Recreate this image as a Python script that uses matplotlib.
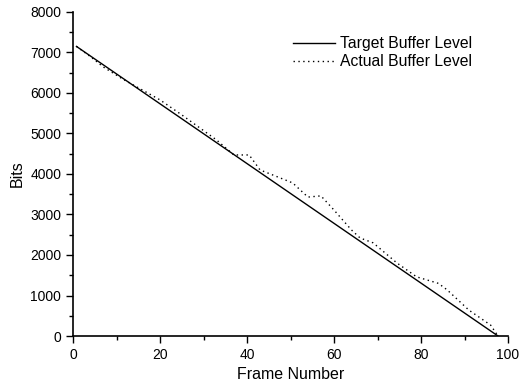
import matplotlib
matplotlib.use("Agg")
import matplotlib.pyplot as plt
from matplotlib.ticker import MultipleLocator

plt.rcParams['font.family'] = ['Liberation Sans', 'DejaVu Sans']

target_x = [0.8, 97.7]
target_y = [7150, 0]

actual_x = [0.8, 4, 7, 11.5, 15, 20, 25, 29, 33, 37, 40.5, 43, 47, 50.5, 54, 57, 60, 64, 66, 69,
            74.5, 79, 84, 86, 91, 96, 97.7]
actual_y = [7150, 6900, 6640, 6340, 6130, 5830, 5460, 5150, 4840, 4470, 4470, 4100, 3930, 3780,
            3430, 3460, 3110, 2620, 2420, 2300, 1800, 1460, 1300, 1140, 640, 270, 0]

fig = plt.figure(figsize=(5.28, 3.90), dpi=100)
ax = fig.add_axes([73/528, 54/390, 435/528, 324/390])

ax.plot(target_x, target_y, color='black', lw=1.0, label='Target Buffer Level')
ax.plot(actual_x, actual_y, color='black', lw=1.0, linestyle=(0, (1, 2.5)), label='Actual Buffer Level')

ax.set_xlim(0, 100)
ax.set_ylim(0, 8000)
ax.xaxis.set_major_locator(MultipleLocator(20))
ax.xaxis.set_minor_locator(MultipleLocator(10))
ax.yaxis.set_major_locator(MultipleLocator(1000))
ax.yaxis.set_minor_locator(MultipleLocator(500))
for s in ['top', 'right']:
    ax.spines[s].set_visible(False)
for s in ['left', 'bottom']:
    ax.spines[s].set_linewidth(1.2)
ax.tick_params(which='major', direction='out', length=5, width=1, labelsize=10)
ax.tick_params(which='minor', direction='out', length=3, width=1)
ax.set_xlabel('Frame Number', fontsize=11.5)
ax.set_ylabel('Bits', fontsize=11.5)

ax.legend(loc='upper left', bbox_to_anchor=(279/528, 1 - 22/390), bbox_transform=fig.transFigure,
          frameon=False, fontsize=11.3, handlelength=2.68, handletextpad=0.3, labelspacing=0.2)

fig.savefig('out.png', dpi=100)
